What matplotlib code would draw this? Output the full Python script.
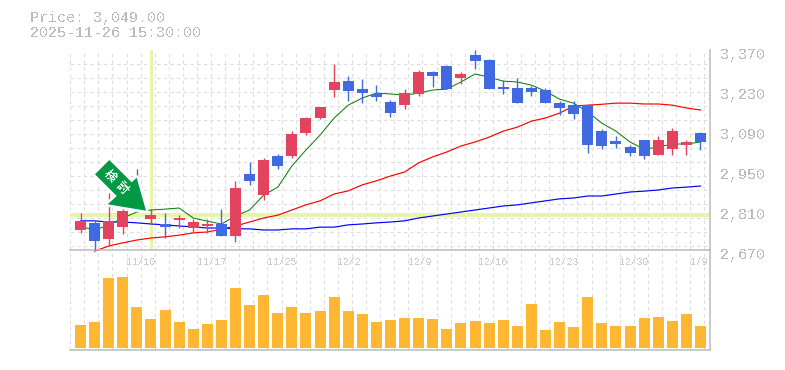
import matplotlib
matplotlib.use('Agg')
import matplotlib.pyplot as plt
import numpy as np
from matplotlib.patches import Polygon
from matplotlib.transforms import ScaledTranslation

# candles, first is oldest (red = up, blue = down)
opens = [2740, 2764.5, 2708.5, 2750.5, 2860, 2778.5, 2761, 2775, 2747, 2754, 2761, 2719, 2936, 2862.5, 2999,
         2999, 3079.5, 3132, 3230, 3261.5, 3233.5, 3216, 3188, 3177.5, 3216, 3293, 3314, 3272, 3352.5, 3335,
         3240.5, 3237, 3237, 3230, 3184.5, 3177.5, 3177.5, 3086.5, 3051.5, 3030.5, 3055, 3002.5, 3023.5, 3037.5, 3079.5]
closes = [2771.5, 2701.5, 2771.5, 2806.5, 2827.5, 2792.5, 2750.5, 2782, 2768, 2761, 2719, 2887, 2911.5, 2985, 2964,
          3076, 3132, 3170.5, 3258, 3226.5, 3219.5, 3205.5, 3149.5, 3219.5, 3293, 3279, 3233.5, 3286, 3331.5, 3233.5,
          3233.5, 3184.5, 3223, 3184.5, 3167, 3146, 3037.5, 3034, 3041, 3009.5, 2999, 3055, 3086.5, 3048, 3048]
highs = [2799.5, 2771.5, 2869.5, 2827.5, 2953.5, 2813.5, 2799.5, 2792.5, 2778.5, 2778.5, 2813.5, 2911.5, 2978, 2992, 3006,
         3086.5, 3135.5, 3170.5, 3321, 3279, 3268.5, 3247.5, 3195, 3233.5, 3300, 3296.5, 3317.5, 3293, 3370, 3338.5,
         3265, 3272, 3244, 3237, 3191.5, 3191.5, 3177.5, 3093.5, 3069, 3037.5, 3055, 3069, 3097, 3055, 3083]
lows = [2729.5, 2670, 2684, 2726, 2815, 2764.5, 2712, 2747, 2729.5, 2729.5, 2719, 2698, 2897.5, 2845, 2953.5,
        2992, 3072.5, 3128.5, 3205.5, 3191.5, 3184.5, 3191.5, 3135.5, 3163.5, 3209, 3240.5, 3233.5, 3251, 3303.5, 3233.5,
        3216, 3184.5, 3209, 3184.5, 3142.5, 3128.5, 3009.5, 3023.5, 3027, 2999, 2988.5, 3002.5, 3002.5, 3002.5, 3020]
volumes = [230, 260, 700, 710, 410, 290, 380, 260, 190, 240, 280, 600, 430, 530, 350, 410, 350, 370, 510, 370, 340, 260, 280,
           300, 300, 290, 190, 250, 270, 250, 280, 220, 440, 180, 260, 210, 510, 250, 220, 220, 300, 310, 270, 340, 220]

ma_green = [2752, 2740, 2757, 2782, 2803, 2810, 2813, 2817, 2782, 2771, 2761, 2789, 2810, 2862, 2890,
            2964, 3020, 3072, 3132, 3177, 3202, 3219, 3216, 3212, 3219, 3230, 3233, 3258, 3286, 3275,
            3261, 3258, 3247, 3226, 3198, 3184, 3153, 3114, 3086, 3048, 3023, 3030, 3041, 3041, 3048]
ma_red = [np.nan, 2666, 2684, 2695, 2705, 2712, 2716, 2722, 2730, 2733, 2743, 2754, 2768, 2782, 2792,
          2810, 2828, 2842, 2866, 2877, 2898, 2912, 2929, 2943, 2975, 2996, 3013, 3034, 3048, 3065,
          3086, 3100, 3121, 3132, 3149, 3174, 3177, 3180, 3184, 3184, 3181, 3181, 3177, 3167, 3160]
ma_blue = [2772, 2772, 2768, 2768, 2765, 2761, 2758, 2754, 2751, 2747, 2747, 2744, 2744, 2740, 2740,
           2744, 2744, 2750, 2750, 2758, 2761, 2765, 2768, 2772, 2782, 2789, 2796, 2803, 2810, 2817,
           2824, 2828, 2835, 2842, 2849, 2852, 2859, 2859, 2866, 2873, 2876, 2880, 2887, 2890, 2894]

date_pos = [4, 9, 14, 19, 24, 29, 34, 39, 44]
date_labels = ['11/10', '11/17', '11/25', '12/2', '12/9', '12/16', '12/23', '12/30', '1/9']
price_ticks = [2670, 2810, 2950, 3090, 3230, 3370]
cross_i = 5
cross_price = 2792.5

W, H = 785, 370
RED = '#E2445F'
BLUE = '#4169E1'
GRID = '#DDDDDD'
AXIS = '#BBBBBB'
YELLOW = '#E6F5A8'
GREEN = '#009944'
MONO = 'Liberation Mono'

plt.rcParams['text.antialiased'] = False


def fx(px):
    return px / W


def fy(px):
    return 1 - px / H


x = np.arange(len(opens))
colors = [RED if c >= o else BLUE for o, c in zip(opens, closes)]
x_min, x_max = -10.5 / 14.09, 629.5 / 14.09
grid_x = np.arange(46) - 0.73

fig = plt.figure(figsize=(W / 100, H / 100), dpi=100)
ax_vol = fig.add_axes([fx(70), fy(350), 640 / W, 100 / H])
ax = fig.add_axes([fx(70), fy(250), 640 / W, 200 / H])
ax_vol.patch.set_visible(False)

for a in (ax, ax_vol):
    a.set_xlim(x_min, x_max)
    a.spines['top'].set_visible(False)
    a.spines['left'].set_visible(False)
    for side in ('right', 'bottom'):
        a.spines[side].set_color(AXIS)
        a.spines[side].set_linewidth(1.1)
    a.set_axisbelow(True)
    a.set_xticks(grid_x, minor=True)
    a.grid(True, which='minor', axis='x', color=GRID, lw=0.8, ls=(0, (3, 3)))
    a.tick_params(which='both', length=0)

# price panel
ax.set_ylim(2670, 3370)
ax.set_yticks(np.arange(2684, 3371, 49), minor=True)
ax.grid(True, which='minor', axis='y', color=GRID, lw=0.8, ls=(0, (3, 3)))
ax.yaxis.tick_right()
ax.set_yticks(price_ticks, [f'{p:,}' for p in price_ticks], fontfamily=MONO, fontsize=10.8, color=AXIS)
ax.tick_params(axis='y', pad=7)
for lab in ax.get_yticklabels():
    lab.set_transform(lab.get_transform() + ScaledTranslation(0, -3 / 100, fig.dpi_scale_trans))

ax.set_xticks(date_pos, date_labels, fontfamily=MONO, fontsize=7, color='#CCCCCC', ha='left')
ax.tick_params(axis='x', pad=5)
for lab in ax.get_xticklabels():
    lab.set_transform(lab.get_transform() + ScaledTranslation(-10.5 / 100, 0, fig.dpi_scale_trans))

# crosshair
ax.axvline(cross_i, color=YELLOW, lw=2.3, zorder=1.5)
ax.axhline(cross_price, color=YELLOW, lw=2.8, zorder=1.5)

ax.plot(x, ma_blue, color='#0000FF', lw=0.85, zorder=2, clip_on=False)
ax.plot(x, ma_red, color='#FF0000', lw=0.85, zorder=2, clip_on=False)
ax.plot(x, ma_green, color='#007700', lw=0.7, zorder=2)

ax.vlines(x, lows, highs, colors=colors, lw=1.0, zorder=3)
bottoms = np.minimum(opens, closes)
heights = np.abs(np.array(closes) - np.array(opens))
ax.bar(x, heights, bottom=bottoms, width=0.78, color=colors, lw=0, zorder=3)

# volume panel
ax_vol.set_ylim(-20, 980)
ax_vol.set_yticks([])
ax_vol.set_xticks([])
ax_vol.bar(x, volumes, width=0.78, color='#FFB733', lw=0, zorder=3)

# arrow marker on top of the candles, white halo cuts the wicks behind it
arrow_px = [(109.3, 160), (95, 174.3), (116.7, 196), (107.7, 204.3), (146, 210.7), (136.7, 177.7), (131.7, 182.3)]
arrow_fig = [(fx(a), fy(b)) for a, b in arrow_px]
fig.add_artist(Polygon(arrow_fig, closed=True, transform=fig.transFigure, facecolor='white', edgecolor='white',
                       lw=3.5, joinstyle='round', zorder=9))
fig.add_artist(Polygon(arrow_fig, closed=True, transform=fig.transFigure, facecolor=GREEN, edgecolor='none', zorder=10))
for ch, px, py in (('検', 110, 176), ('討', 122.3, 187.7)):
    fig.text(fx(px), fy(py), ch, color='white', fontsize=8.5, fontweight='bold', family='Noto Sans CJK JP',
             rotation=-45, ha='center', va='center', zorder=11)

fig.text(fx(30), fy(18), 'Price: 3,049.00', family=MONO, fontsize=10.8, color=AXIS, va='center')
fig.text(fx(30), fy(33), '2025-11-26 15:30:00', family=MONO, fontsize=10.8, color=AXIS, va='center')

fig.savefig('out.png', dpi=100)
